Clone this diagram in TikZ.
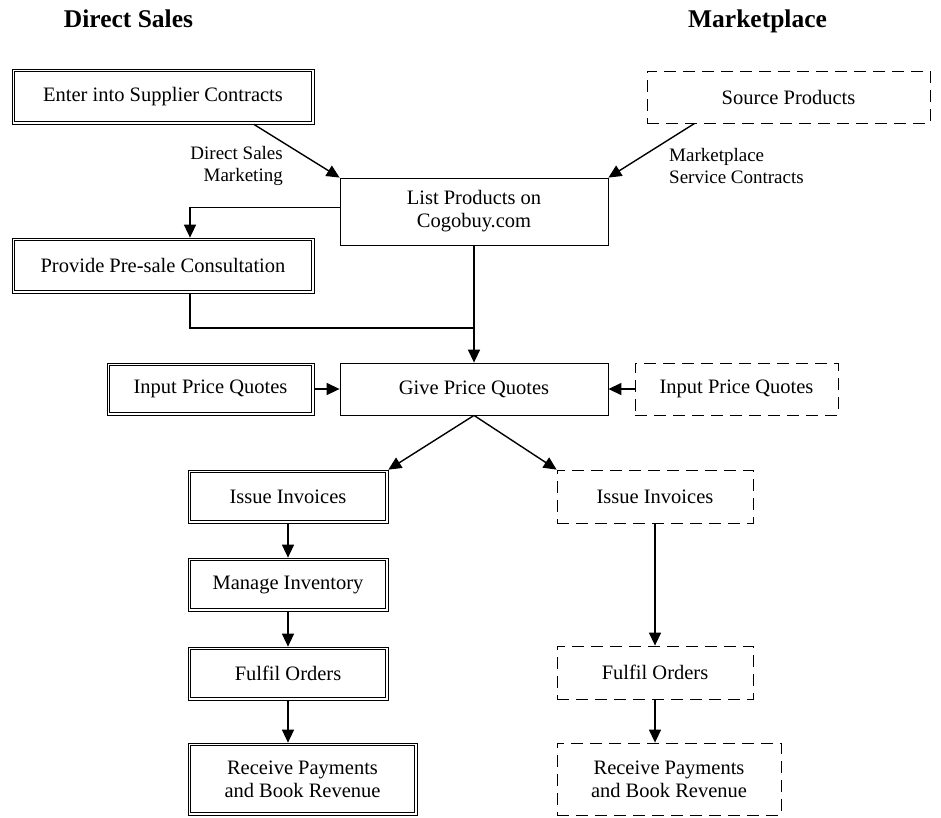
\documentclass[tikz,border=0pt]{standalone}
\usepackage{fontspec}
\setmainfont{Liberation Serif}
\usetikzlibrary{arrows.meta,calc}
\begin{document}
\begin{tikzpicture}[x=1pt,y=-1pt,
  box/.style={draw, line width=0.8pt, align=center, inner sep=0pt,
    font=\fontsize{20.5}{23}\selectfont},
  dbox/.style={box, line width=0.7pt},
  mbox/.style={box, dash pattern=on 12pt off 7pt},
  arr/.style={line width=1.4pt, -{Triangle[length=13pt,width=12pt]}},
  link/.style={line width=1.1pt},
  lbl/.style={font=\fontsize{19}{22}\selectfont, inner sep=0pt},
  title/.style={font=\fontsize{25.5}{28}\selectfont\bfseries, inner sep=0pt, anchor=base}]
\useasboundingbox (0,0) rectangle (941,817);

% column headings
\node[title] (tds) at (128.5,27) {Direct Sales};
\node[title] (tmp) at (757.5,27) {Marketplace};

% sourcing
\node[dbox, minimum width=302pt, minimum height=55pt] (enter) at (163,96.5) {Enter into Supplier Contracts};
\node[mbox, minimum width=283pt, minimum height=52pt] (source) at (788.5,97) {Source Products};
\node[box, minimum width=268pt, minimum height=67pt] (list) at (474,211.5) {List Products on\\Cogobuy.com};
\node[dbox, minimum width=302pt, minimum height=55pt] (provide) at (163,265.5) {Provide Pre-sale Consultation};

\node[lbl, anchor=east, align=right] (lds) at (283,166) {Direct Sales\\Marketing};
\node[lbl, anchor=west, align=left] (lmp) at (669,166) {Marketplace\\Service Contracts};

% quoting
\node[box, minimum width=268pt, minimum height=52pt] (give) at (474,389) {Give Price Quotes};
\node[dbox, minimum width=207pt, minimum height=52pt] (inL) at (210.5,389) {Input Price Quotes};
\node[mbox, minimum width=203pt, minimum height=52pt] (inR) at (736.5,389) {Input Price Quotes};

% direct sales chain
\node[dbox, minimum width=200pt, minimum height=53pt] (issL) at (288,496.5) {Issue Invoices};
\node[dbox, minimum width=200pt, minimum height=53pt] (manage) at (288,584.5) {Manage Inventory};
\node[dbox, minimum width=200pt, minimum height=53pt] (fulL) at (288,673.5) {Fulfil Orders};
\node[dbox, minimum width=229pt, minimum height=72pt] (recL) at (302.5,779) {Receive Payments\\and Book Revenue};

% marketplace chain
\node[mbox, minimum width=196pt, minimum height=53pt] (issR) at (655,496.5) {Issue Invoices};
\node[mbox, minimum width=196pt, minimum height=53pt] (fulR) at (655,672.5) {Fulfil Orders};
\node[mbox, minimum width=224pt, minimum height=72pt] (recR) at (669,779) {Receive Payments\\and Book Revenue};

% inner frame of the double-ruled boxes
\foreach \n in {enter,provide,inL,issL,manage,fulL,recL}
  \draw[line width=0.7pt] ([shift={(2.6pt,-2.6pt)}]\n.north west)
    rectangle ([shift={(-2.6pt,2.6pt)}]\n.south east);

\coordinate (merge) at (474,328);

% connectors
\draw[arr] ($(enter.south west)!0.8!(enter.south east)$) -- (list.north west);
\draw[arr] ($(source.south west)+(48,0)$) -- (list.north east);
\draw[arr] ([yshift=4pt]list.west) -| ([xshift=27pt]provide.north);
\draw[link] ([xshift=27pt]provide.south) |- (merge);
\draw[arr] (list.south) -- (give.north);
\draw[arr] (inL) -- (give);
\draw[arr] (inR) -- (give);
\draw[arr] (give.south) -- (issL.north east);
\draw[arr] (give.south) -- (issR.north west);
\draw[arr] (issL) -- (manage);
\draw[arr] (manage) -- (fulL);
\draw[arr] (fulL.south) -- (fulL.south |- recL.north);
\draw[arr] (issR) -- (fulR);
\draw[arr] (fulR.south) -- (fulR.south |- recR.north);
\end{tikzpicture}
\end{document}
